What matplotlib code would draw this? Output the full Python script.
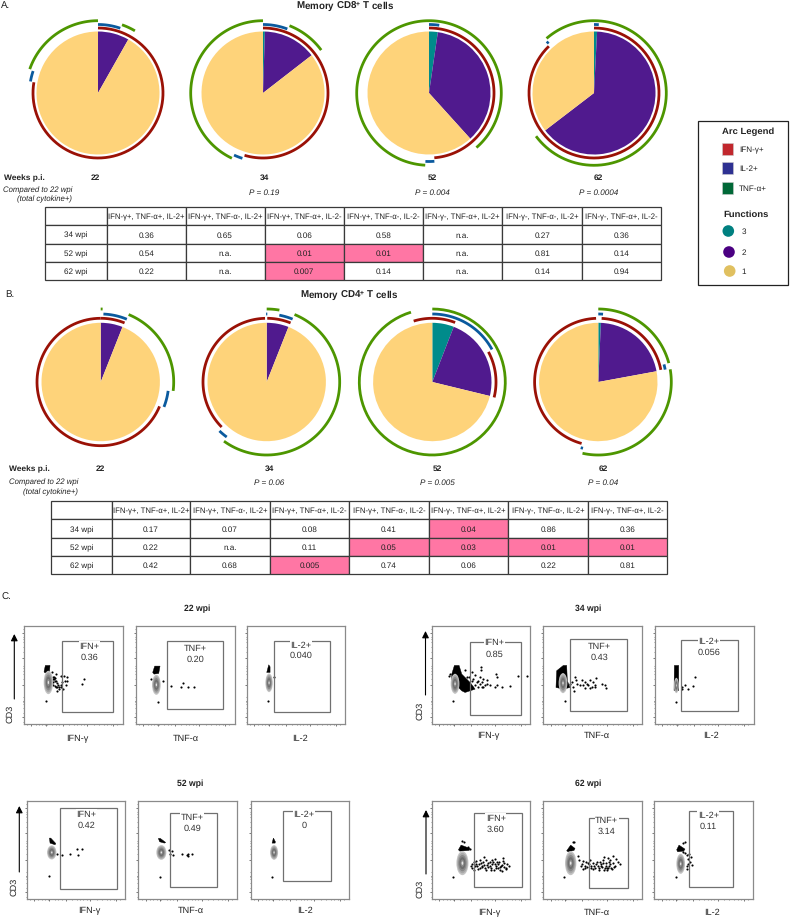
import numpy as np
import matplotlib
matplotlib.use('Agg')
import matplotlib.pyplot as plt
from matplotlib.patches import Ellipse, Rectangle, Circle

plt.rcParams['font.family'] = ['Liberation Sans', 'DejaVu Sans']
plt.rcParams['mathtext.default'] = 'regular'
plt.rcParams['text.hinting'] = 'no_hinting'

W, H = 790, 920

# pie slices, percent of the cell population: 3, 2, 1 functions
cd8_pies = [[0.0, 8.2, 91.8], [0.5, 14.0, 85.5], [2.3, 36.0, 61.7], [0.8, 63.8, 35.4]]
cd4_pies = [[0.0, 6.0, 94.0], [0.0, 6.0, 94.0], [5.9, 22.9, 71.2], [0.7, 21.4, 77.9]]
weeks = ['22', '34', '52', '62']

# arcs, degrees clockwise from 12 o'clock
cd8_red = [[(0, 279.5)], [(0, 196.5)], [(0, 175.3)], [(0, 316)]]
cd8_blue = [[(0, 19), (279.7, 288.7)], [(0, 20.8), (197.5, 205)], [(0, 8.6), (175.5, 183)], [(0, 4), (316.4, 318.5)]]
cd8_green = [[(19.4, 30.7), (289.3, 360)], [(21.5, 53.6), (205.5, 360)], [(0, 139), (183, 360)], [(0, 233.3), (319, 360)]]
cd4_red = [[(0, 22), (112.5, 360)], [(0.5, 22), (225, 358.5)], [(343, 381), (61.8, 104)], [(3, 79), (195.2, 358)]]
cd4_blue = [[(2.3, 22.6), (97.5, 111.5)], [(359.5, 360.5), (10.7, 22.4), (216, 224)], [(0, 61.4)], [(0, 4), (75, 79.5), (193, 195)]]
cd4_green = [[(0, 1.5), (22.5, 97)], [(0, 10), (22.4, 215.8)], [(0, 343)], [(0, 75), (80, 192.5)]]

p_cd8 = ['', 'P = 0.19', 'P = 0.004', 'P = 0.0004']
p_cd4 = ['', 'P = 0.06', 'P = 0.005', 'P = 0.04']

col_labels = ['', 'IFN-γ+, TNF-α+, IL-2+', 'IFN-γ+, TNF-α-, IL-2+', 'IFN-γ+, TNF-α+, IL-2-',
              'IFN-γ+, TNF-α-, IL-2-', 'IFN-γ-, TNF-α+, IL-2+', 'IFN-γ-, TNF-α-, IL-2+', 'IFN-γ-, TNF-α+, IL-2-']
row_labels = ['34 wpi', '52 wpi', '62 wpi']
cd8_table = [['0.36', '0.65', '0.06', '0.58', 'n.a.', '0.27', '0.36'],
             ['0.54', 'n.a.', '0.01', '0.01', 'n.a.', '0.81', '0.14'],
             ['0.22', 'n.a.', '0.007', '0.14', 'n.a.', '0.14', '0.94']]
cd4_table = [['0.17', '0.07', '0.08', '0.41', '0.04', '0.86', '0.36'],
             ['0.22', 'n.a.', '0.11', '0.05', '0.03', '0.01', '0.01'],
             ['0.42', '0.68', '0.005', '0.74', '0.06', '0.22', '0.81']]
cd8_signif = [(2, 3), (2, 4), (3, 3)]
cd4_signif = [(1, 5), (2, 4), (2, 5), (2, 6), (2, 7), (3, 3)]

# flow panels: stain names and gate text per time point
stain_labels = ['IFN-γ', 'TNF-α', 'IL-2']
gate_names = ['IFN+', 'TNF+', 'IL-2+']
gate_freq = {'22': ['0.36', '0.20', '0.040'], '34': ['0.85', '0.43', '0.056'],
             '52': ['0.42', '0.49', '0'], '62': ['3.60', '3.14', '0.11']}
# gate rectangle x0, x1, y0, y1 on a 0-295 display scale
gates = {'22': [(115, 268, 37, 250), (94, 262, 46, 250), (83, 248, 37, 250)],
         '34': [(115, 266, 28, 246), (81, 251, 40, 254), (77, 250, 40, 252)],
         '52': [(99, 269, 30, 272), (96, 237, 38, 257), (98, 239, 56, 263)],
         '62': [(126, 269, 37, 257), (138, 255, 35, 242), (103, 236, 37, 265)]}
gate_text = {'22': [(196, 235, 202), (177, 230, 197), (162, 239, 207)],
             '34': [(188, 246, 211), (168, 236, 203), (161, 250, 217)],
             '52': [(178, 257, 223), (162, 247, 213), (160, 255, 222)],
             '62': [(192, 245, 212), (190, 237, 204), (162, 253, 220)]}
# density centre x, y and width, height
blobs = {'22': [(73, 125, 28, 70), (61, 118, 26, 60), (67, 124, 22, 56)],
         '34': [(70, 121, 26, 60), (59, 123, 26, 60), (64, 116, 14, 46)],
         '52': [(75, 140, 28, 42), (69, 140, 30, 44), (70, 140, 24, 44)],
         '62': [(92, 108, 36, 72), (82, 108, 34, 72), (79, 106, 26, 60)]}
# dense black region above the density
caps = {'22': [([60, 64, 78, 76, 62], [158, 176, 176, 155, 154]),
               ([50, 56, 72, 68, 54], [155, 174, 174, 152, 150]),
               ([60, 66, 70, 70], [155, 178, 172, 155])],
        '34': [([60, 68, 82, 90, 115, 130, 100, 90, 60], [150, 176, 176, 150, 125, 105, 95, 100, 130]),
               ([38, 40, 60, 70, 72, 80, 60], [110, 160, 176, 176, 130, 110, 105]),
               ([57, 58, 71, 71], [101, 176, 176, 101])],
        '52': [([68, 72, 87, 85, 70], [183, 183, 167, 163, 168]),
               ([60, 66, 82, 78, 64], [182, 182, 170, 168, 172]),
               ([64, 68, 74, 73], [168, 183, 172, 168])],
        '62': [([80, 88, 115, 112, 84], [148, 162, 152, 146, 144]),
               ([70, 82, 95, 92, 74], [145, 162, 152, 146, 142]),
               ([67, 74, 92, 88, 70], [148, 162, 150, 144, 142])]}
events = {
    '22': [
        ([85, 95, 90, 88, 95, 100, 92, 95, 105, 110, 115, 122, 112, 120, 130, 128, 125, 118, 105, 100, 112, 181, 173, 66,
          86, 90, 94, 88, 92, 86, 98, 102],
         [155, 150, 135, 125, 130, 122, 115, 110, 110, 118, 125, 128, 145, 145, 142, 130, 118, 105, 105, 100, 112, 135, 120, 68,
          140, 142, 138, 135, 128, 118, 112, 116]),
        ([46, 81, 106, 135, 141, 156, 174, 65], [135, 130, 115, 110, 122, 112, 110, 67]),
        ([81, 64], [142, 68])],
    '34': [
        ([52, 55, 148, 148, 193, 195, 257, 285, 167, 155, 145, 130, 120, 100, 235, 210, 195, 190, 175, 165, 155, 145, 140, 130, 65,
          135, 150, 125, 140, 120, 160, 150, 122, 112, 105],
         [144, 151, 171, 163, 150, 141, 143, 143, 131, 136, 141, 148, 156, 161, 114, 111, 116, 111, 116, 121, 111, 121, 111, 116, 68,
          125, 125, 135, 130, 130, 118, 112, 112, 140, 140]),
        ([65, 95, 97, 115, 125, 140, 158, 150, 175, 185, 188, 155, 135, 120, 110, 125, 140, 155, 90, 80, 85, 100, 92, 130, 145],
         [68, 141, 131, 131, 126, 131, 138, 126, 121, 118, 108, 116, 116, 116, 116, 108, 108, 111, 111, 121, 126, 120, 100, 120, 110]),
        ([63, 120, 115, 100, 90, 80, 82], [66, 141, 113, 106, 118, 111, 106])],
    '52': [
        ([67, 90, 105, 130, 152, 165, 155], [68, 135, 133, 135, 149, 150, 132]),
        ([66, 93, 100, 95, 105, 130, 145, 150, 160, 148], [67, 148, 143, 135, 132, 135, 132, 134, 136, 130]),
        ([65], [67])],
    '62': [
        ([63, 90, 97, 110, 115, 118, 122, 126, 130, 134, 138, 142, 146, 150, 154, 158, 162, 166, 170, 174, 178, 182, 186, 190, 194, 198,
          202, 206, 210, 214, 218, 222, 226, 232, 120, 128, 136, 144, 152, 160, 168, 176, 184, 192, 200, 208, 216, 224, 132, 148, 164,
          180, 196, 212, 158, 178, 190, 205, 215],
         [67, 173, 172, 155, 150, 100, 92, 110, 98, 115, 90, 104, 118, 95, 110, 125, 88, 103, 96, 112, 92, 106, 88, 120, 100, 92,
          110, 86, 103, 115, 96, 90, 106, 100, 106, 88, 100, 94, 100, 92, 108, 100, 112, 94, 104, 98, 108, 92, 105, 108, 116,
          116, 110, 84, 102, 86, 106, 96, 122]),
        ([63, 88, 92, 105, 108, 112, 116, 120, 124, 128, 132, 136, 140, 144, 148, 152, 156, 160, 164, 168, 172, 176, 180, 184, 188, 192,
          196, 200, 204, 208, 212, 218, 225, 230, 118, 126, 134, 142, 150, 158, 166, 174, 182, 190, 198, 206, 183, 193, 200, 178, 210,
          215, 170, 195, 188],
         [67, 170, 172, 130, 118, 100, 106, 115, 92, 110, 96, 104, 116, 94, 108, 100, 92, 110, 98, 88, 104, 96, 108, 92, 100, 86,
          112, 104, 92, 108, 96, 120, 112, 105, 90, 100, 108, 98, 90, 105, 94, 100, 86, 94, 100, 90, 125, 122, 118, 118, 128,
          100, 112, 92, 108]),
        ([65, 110, 107, 112, 97, 102, 97, 99, 92, 87, 93, 85, 100, 105],
         [67, 125, 112, 102, 132, 105, 90, 98, 138, 140, 172, 168, 120, 135])]}

y_major = [22, 117, 199, 272]
y_minor = [8, 35, 48, 60, 66, 68, 70, 80, 135, 150, 160, 168, 175, 215, 232, 245, 255, 262, 285]
x_major = [22, 66, 117, 190, 268]
x_minor = [10, 35, 45, 55, 64, 68, 85, 95, 105, 135, 150, 160, 170, 180, 210, 225, 240, 250, 260, 280]

# blur-ish rings of the density plot, outside to inside
ring_scale = [1.0, 0.85, 0.68, 0.5, 0.3, 0.14]
ring_grey = ['#c4c4c4', '#a8a8a8', '#888888', '#6e6e6e', '#8c8c8c', '#e6e6e6']

leg_arc = ['IFN-γ+', 'IL-2+', 'TNF-α+']
leg_arc_col = ['#c1272d', '#2e3192', '#006837']
leg_fun = ['3', '2', '1']
leg_fun_col = ['#008080', '#4b0082', '#e0c060']

pie_cols = ['#008b8b', '#501a8e', '#fed37a']
RED, BLUE, GREEN = '#9a1106', '#0a5a9e', '#4d9600'
PINK = '#ff76a4'


def px_axes(x0, y0, x1, y1):
    return fig.add_axes([x0 / W, 1 - y1 / H, (x1 - x0) / W, (y1 - y0) / H])


def draw_pie(cx, cy, fracs, radius, red, blue, green, rr, rb, rg):
    ax = px_axes(cx - 85, cy - 85, cx + 85, cy + 85)
    ax.pie(fracs, colors=pie_cols, radius=radius, startangle=90, counterclock=False,
           center=(0, 0), frame=True, normalize=True, wedgeprops=dict(linewidth=0))
    ax.set_xlim(-85, 85)
    ax.set_ylim(-85, 85)
    ax.axis('off')
    for arcs, r, c in [(red, rr, RED), (blue, rb, BLUE), (green, rg, GREEN)]:
        for a0, a1 in arcs:
            th = np.radians(np.linspace(a0, a1, 80))
            ax.plot(r * np.sin(th), r * np.cos(th), color=c, lw=2.0, solid_capstyle='butt')


def draw_table(x, y, col_px, row_px, rows, signif):
    ax = px_axes(x[0], y[0], x[-1], y[-1])
    ax.axis('off')
    body = [col_labels] + [[lab] + row for lab, row in zip(row_labels, rows)]
    colours = [['white'] * 8 for _ in body]
    for r, c in signif:
        colours[r][c] = PINK
    tb = ax.table(cellText=body, cellColours=colours, cellLoc='center', bbox=[0, 0, 1, 1],
                  colWidths=[c / sum(col_px) for c in col_px])
    tb.auto_set_font_size(False)
    for (r, c), cell in tb.get_celld().items():
        cell.set_height(row_px[r] / sum(row_px))
        cell.set_edgecolor('#3a3a3a')
        cell.set_linewidth(0.9)
        cell.PAD = 0.01
        cell.get_text().set_fontsize(5.6 if r == 0 else 5.9)
        cell.get_text().set_color('#222222')


def draw_flow(x0, y0, week, idx, size=98.5):
    ax = px_axes(x0, y0, x0 + size, y0 + size)
    ax.set_xlim(0, 295)
    ax.set_ylim(0, 295)
    for s in ax.spines.values():
        s.set_color('#8a8a8a')
        s.set_linewidth(0.9)
    ax.set_xticks(x_major)
    ax.set_yticks(y_major)
    ax.set_xticks(x_minor, minor=True)
    ax.set_yticks(y_minor, minor=True)
    ax.set_xticklabels([])
    ax.set_yticklabels([])
    ax.tick_params(which='major', length=1.6, width=0.5, color='#444444')
    ax.tick_params(which='minor', length=1.0, width=0.4, color='#444444')
    cap_x, cap_y = caps[week][idx]
    ax.fill(cap_x, cap_y, color='black', lw=0.3)
    ev_x, ev_y = events[week][idx]
    ax.scatter(ev_x, ev_y, s=2.4, c='black', linewidths=0)
    bx, by, bw, bh = blobs[week][idx]
    for sc, g in zip(ring_scale, ring_grey):
        ax.add_patch(Ellipse((bx, by), bw * sc, bh * sc, fc=g, ec='none'))
    gx0, gx1, gy0, gy1 = gates[week][idx]
    ax.add_patch(Rectangle((gx0, gy0), gx1 - gx0, gy1 - gy0, fill=False, ec='#707070', lw=0.9))
    tx, ty1, ty2 = gate_text[week][idx]
    ax.text(tx, ty1, gate_names[idx], ha='center', va='center', fontsize=6.6, color='#333333',
            bbox=dict(fc='white', ec='none', pad=0.4))
    ax.text(tx, ty2, gate_freq[week][idx], ha='center', va='center', fontsize=6.6, color='#333333')


fig = plt.figure(figsize=(W / 100, H / 100), dpi=100)

# panel A and B pies
cd8_cx = [98, 263, 429, 594]
cd4_cx = [100.7, 266.7, 432.3, 598.3]
for i in range(4):
    draw_pie(cd8_cx[i], 94, cd8_pies[i], 61.5, cd8_red[i], cd8_blue[i], cd8_green[i], 65, 68.5, 72.3)
    draw_pie(cd4_cx[i], 383, cd4_pies[i], 59.2, cd4_red[i], cd4_blue[i], cd4_green[i], 63.7, 68, 73)

draw_table([45, 661], [207.7, 281], [61.7, 78.6, 79, 79, 79, 79.4, 79.3, 79], [18.3, 19, 18, 18], cd8_table, cd8_signif)
draw_table([51, 667], [501.7, 575], [60.5, 78.5, 79.5, 79.5, 79.5, 79.5, 79.5, 79], [18.6, 19, 18, 17.7], cd4_table, cd4_signif)

# panel C flow plots
flow_left = {'22': [24, 136, 246.7], '34': [431.7, 543.3, 655], '52': [26.7, 138.3, 250.7], '62': [431.7, 543.3, 654.3]}
flow_top = {'22': 626.7, '34': 626.7, '52': 801.7, '62': 801.7}
for wk in weeks:
    for j in range(3):
        draw_flow(flow_left[wk][j], flow_top[wk], wk, j)

# page level text, in pixels
top = fig.add_axes([0, 0, 1, 1], zorder=5)
top.set_xlim(0, W)
top.set_ylim(H, 0)
top.axis('off')
top.patch.set_alpha(0)


def label(x, y, s, size=5.6, **kw):
    kw.setdefault('color', '#222222')
    kw.setdefault('ha', 'center')
    kw.setdefault('va', 'center')
    top.text(x, y, s, fontsize=size, **kw)


label(1, 5, 'A.', 7, ha='left')
label(5, 294, 'B.', 7, ha='left')
label(1, 597, 'C.', 7, ha='left')
label(345, 6, 'Memory CD8$^{+}$ T cells', 7.0, fontweight='bold')
label(349, 295, 'Memory CD4$^{+}$ T cells', 7.0, fontweight='bold')

label(4, 178.5, 'Weeks p.i.', 6, ha='left', fontweight='bold')
label(9, 469.3, 'Weeks p.i.', 6, ha='left', fontweight='bold')
label(72.3, 190, 'Compared to 22 wpi', 5.6, ha='right', style='italic')
label(72.3, 199.5, '(total cytokine+)', 5.6, ha='right', style='italic')
label(78, 482.7, 'Compared to 22 wpi', 5.6, ha='right', style='italic')
label(78, 492, '(total cytokine+)', 5.6, ha='right', style='italic')

cd8_wk_x = [95.3, 264, 432, 598.3]
cd4_wk_x = [100.3, 269, 437, 603.3]
for i, wk in enumerate(weeks):
    label(cd8_wk_x[i], 178, wk, 6, fontweight='bold')
    label(cd4_wk_x[i], 469, wk, 6, fontweight='bold')
    label(cd8_wk_x[i], 193, p_cd8[i], 5.9, style='italic')
    label(cd4_wk_x[i], 483, p_cd4[i], 5.9, style='italic')

# legend box
top.add_patch(Rectangle((698.3, 121.7), 90, 164.3, fill=False, ec='#222222', lw=0.9))
label(721.7, 132, 'Arc Legend', 6.8, ha='left', fontweight='bold')
for y, lab, col in zip([144, 163.3, 183.3], leg_arc, leg_arc_col):
    top.add_patch(Rectangle((721.7, y), 11.7, 11.6, fc=col, ec='#cccccc', lw=0.4))
    label(739, y + 6, lab, 5.9, ha='left')
label(723, 215, 'Functions', 6.8, ha='left', fontweight='bold')
for y, xc, lab, col in zip([232, 253, 272], [728.3, 729, 729.7], leg_fun, leg_fun_col):
    top.add_patch(Circle((xc, y), 5.8, fc=col, ec='none'))
    label(744, y, lab, 5.9)

# flow headings and axis names
title_x = {'22': 197, '34': 588, '52': 190, '62': 588}
title_y = {'22': 609, '34': 609, '52': 784, '62': 784}
xlab_x = {'22': [77.3, 186, 300], '34': [488, 597, 711], '52': [89, 190.7, 305], '62': [489, 597, 711.7]}
xlab_y = {'22': 739, '34': 735.7, '52': 910.7, '62': 913}
cd3_x = {'22': 10, '34': 420, '52': 14, '62': 420}
cd3_y = {'22': 714, '34': 711, '52': 887, '62': 889}
arrow_x = {'22': 14.3, '34': 425.5, '52': 19.3, '62': 426}
arrow_y = {'22': (700, 635), '34': (696, 632), '52': (873, 807), '62': (875, 811)}
for wk in weeks:
    label(title_x[wk], title_y[wk], wk + ' wpi', 6.2, fontweight='bold')
    for j in range(3):
        label(xlab_x[wk][j], xlab_y[wk], stain_labels[j], 6.6)
    label(cd3_x[wk], cd3_y[wk], 'CD3', 6.6, rotation=90)
    y0, y1 = arrow_y[wk]
    top.annotate('', xy=(arrow_x[wk], y1), xytext=(arrow_x[wk], y0),
                 arrowprops=dict(arrowstyle='-|>', color='black', lw=0.8, mutation_scale=10, shrinkA=0, shrinkB=0))

fig.savefig('out.png', dpi=100)
